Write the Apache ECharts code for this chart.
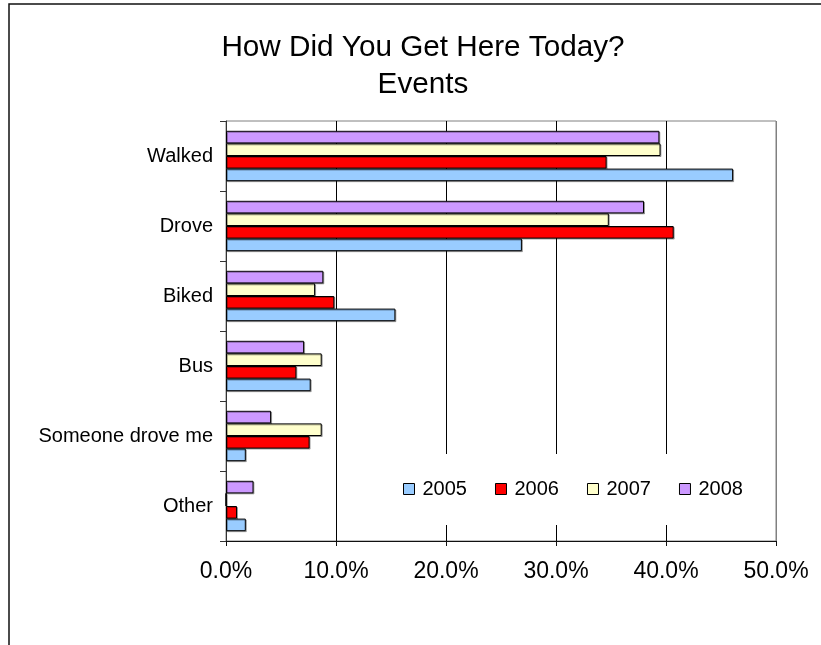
<!DOCTYPE html>
<html>
<head>
<meta charset="utf-8">
<script src="https://cdn.jsdelivr.net/npm/echarts@6/dist/echarts.min.js"></script>
<style>html,body{margin:0;padding:0;background:#fff;}#c{width:821px;height:645px;}</style>
</head>
<body>
<div id="c"></div>
<script>
const categories = ['Walked', 'Drove', 'Biked', 'Bus', 'Someone drove me', 'Other'];
const years = ['2005', '2006', '2007', '2008'];
const values2005 = [46.1, 26.9, 15.4, 7.7, 1.8, 1.8];
const values2006 = [34.6, 40.7, 9.85, 6.4, 7.6, 1.0];
const values2007 = [39.5, 34.8, 8.1, 8.7, 8.7, 0];
const values2008 = [39.4, 38.0, 8.85, 7.1, 4.1, 2.5];
const xTicks = [0, 10, 20, 30, 40, 50];
const colors = ['#99CCFF', '#FF0000', '#FFFFCC', '#CC99FF'];

const FONT = '"Liberation Sans", Arial, sans-serif';
const seriesValues = [values2005, values2006, values2007, values2008];

// draw 2008 first so that, on the inverted category axis, 2005 sits at the bottom of each group
const order = [3, 2, 1, 0];

const chart = echarts.init(document.getElementById('c'), null, {renderer: 'canvas'});
chart.setOption({
  animation: false,
  backgroundColor: '#fff',
  title: {
    text: 'How Did You Get Here Today?\nEvents',
    left: 423,
    top: 29,
    padding: 0,
    textAlign: 'center',
    textStyle: {fontFamily: FONT, fontSize: 29.7, fontWeight: 'normal', color: '#000', lineHeight: 37}
  },
  graphic: [{
    type: 'rect', shape: {x: 9, y: 4, width: 900, height: 700},
    style: {fill: 'none', stroke: '#111', lineWidth: 1.5}, silent: true, z: 100
  }],
  legend: {
    data: years,
    left: 393,
    top: 454,
    padding: [25, 10, 26, 10],
    backgroundColor: '#fff',
    itemWidth: 11,
    itemHeight: 11,
    itemGap: 28,
    icon: 'rect',
    itemStyle: {borderColor: '#000', borderWidth: 1},
    textStyle: {fontFamily: FONT, fontSize: 20, lineHeight: 20, color: '#000', padding: [0, 0, 0, 3]},
    z: 5
  },
  grid: {
    left: 226, right: 45, top: 121, bottom: 104,
    show: true, borderColor: '#808080', borderWidth: 1, backgroundColor: 'transparent',
    containLabel: false
  },
  xAxis: {
    type: 'value',
    min: xTicks[0], max: xTicks[xTicks.length - 1], interval: 10,
    axisLine: {show: true, lineStyle: {color: '#111', width: 1}},
    axisTick: {show: true, length: 5, lineStyle: {color: '#111'}},
    splitLine: {show: true, lineStyle: {color: ['#000', '#000', '#000', '#000', '#000', '#808080'], width: 1}},
    axisLabel: {
      fontFamily: FONT, fontSize: 23, color: '#000', margin: 19,
      formatter: v => v.toFixed(1) + '%'
    }
  },
  yAxis: {
    type: 'category',
    data: categories,
    inverse: true,
    axisLine: {show: true, lineStyle: {color: '#333', width: 1}},
    axisTick: {show: true, length: 6, lineStyle: {color: '#333'}},
    axisLabel: {fontFamily: FONT, fontSize: 20, color: '#000', margin: 13},
    splitLine: {show: false}
  },
  series: order.map(i => ({
    name: years[i],
    type: 'bar',
    data: seriesValues[i],
    barWidth: 12.6,
    barGap: '0%',
    itemStyle: {
      color: colors[i], borderColor: '#000', borderWidth: 1,
      shadowColor: 'rgba(0,0,0,0.3)', shadowOffsetX: 1, shadowOffsetY: 1, shadowBlur: 0
    },
    z: 2
  }))
});
</script>
</body>
</html>
